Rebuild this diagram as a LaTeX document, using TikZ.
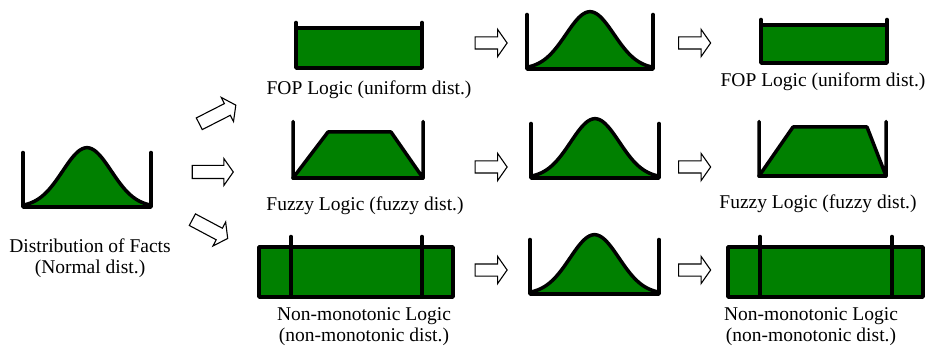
\documentclass[tikz,border=0pt]{standalone}
\usepackage{fontspec}
\setmainfont{Liberation Serif}
\usetikzlibrary{shapes.arrows}
\definecolor{dgreen}{RGB}{0,128,0}
\newcommand\normdist[5]{%
 \pgfmathsetmacro\ndC{(#1+#2)/2}%
 \pgfmathsetmacro\ndS{0.19*(#2-#1)}%
 \pgfmathsetmacro\ndH{#4-#5-1.7}%
 \fill[dgreen] plot[domain=#1:#2,samples=70] (\x,{#4-\ndH*exp(-0.5*((\x-\ndC)/\ndS)*((\x-\ndC)/\ndS))}) -- cycle;
 \draw[thickline] plot[domain=#1:#2,samples=70] (\x,{#4-\ndH*exp(-0.5*((\x-\ndC)/\ndS)*((\x-\ndC)/\ndS))});
 \draw[thickline] (#1,#3+1.5) -- (#1,#4) -- (#2,#4) -- (#2,#3+1.5);
}
\newcommand\fopdist[5]{%
 \fill[dgreen] (#1,#4) rectangle (#2,#5);
 \draw[thickline] (#1,#3+1.5) -- (#1,#5) -- (#2,#5) -- (#2,#3+1.5);
 \draw[thickline] (#1,#4) -- (#2,#4);
}
\newcommand\fuzzdist[7]{%
 \fill[dgreen] (#1,#7) -- (#5,#4) -- (#6,#4) -- (#2,#7) -- cycle;
 \draw[thickline] (#1,#3+1.5) -- (#1,#7) -- (#5,#4) -- (#6,#4) -- (#2,#7) -- (#2,#3+1.5);
 \draw[thickline] (#1,#7) -- (#2,#7);
}
\newcommand\nmdist[7]{%
 \filldraw[fill=dgreen, draw=black, thickline] (#1,#3) rectangle (#2,#4);
 \draw[thickline] (#5,#7+1.5) -- (#5,#4);
 \draw[thickline] (#6,#7+1.5) -- (#6,#4);
}
\begin{document}
\begin{tikzpicture}[x=1pt,y=-1pt,
  thickline/.style={line width=3.5pt, line cap=round, line join=round},
  blockarrow/.style={single arrow, draw=black, fill=white, line width=1.1pt,
    minimum height=32pt, single arrow head extend=7.5pt,
    single arrow tip angle=110, inner xsep=0pt, inner ysep=5.5pt},
  lbl/.style={font=\fontsize{19.5}{21}\selectfont, align=center, inner sep=0pt}]
\useasboundingbox (0,0) rectangle (936,347);

% left
\normdist{23}{151}{151}{207}{146}
\node[lbl] (facts) at (90,258.5) {Distribution of Facts\\(Normal dist.)};

% arrows from left
\node[blockarrow, minimum height=41pt, inner ysep=6pt, single arrow head extend=7pt, rotate=27] (a1) at (215.5,115.5) {};
\node[blockarrow, minimum height=41pt, inner ysep=6pt, single arrow head extend=7pt] (a2) at (210.5,172) {};
\node[blockarrow, minimum height=40pt, inner ysep=6pt, single arrow head extend=7pt, rotate=-28] (a3) at (208,228) {};

% middle column
\fopdist{296}{422}{21}{28}{68}
\node[lbl] (fop1) at (369,89.5) {FOP Logic (uniform dist.)};
\fuzzdist{293}{423}{120}{132}{328}{391}{178}
\node[lbl] (fuz1) at (365,206) {Fuzzy Logic (fuzzy dist.)};
\nmdist{259}{453}{247}{297}{291}{422}{235}
\node[lbl] (nm1) at (364,327) {Non-monotonic Logic\\(non-monotonic dist.)};

% arrows to normal
\node[blockarrow] (b1) at (489,43) {};
\node[blockarrow] (b2) at (489,167) {};
\node[blockarrow] (b3) at (489,270) {};

% normal column
\normdist{527}{653}{13}{69}{10}
\normdist{531}{659}{122}{178}{117}
\normdist{530}{659}{238}{294}{233}

% arrows to right
\node[blockarrow] (c1) at (692.5,43) {};
\node[blockarrow] (c2) at (692.5,167) {};
\node[blockarrow] (c3) at (692.5,270) {};

% right column
\fopdist{761}{887}{18}{25}{63}
\node[lbl] (fop2) at (823,82) {FOP Logic (uniform dist.)};
\fuzzdist{759}{886}{120}{127}{793}{867}{176}
\node[lbl] (fuz2) at (818,204) {Fuzzy Logic (fuzzy dist.)};
\nmdist{728}{923}{247}{297}{760}{892}{235}
\node[lbl] (nm2) at (811,327) {Non-monotonic Logic\\(non-monotonic dist.)};
\end{tikzpicture}
\end{document}
